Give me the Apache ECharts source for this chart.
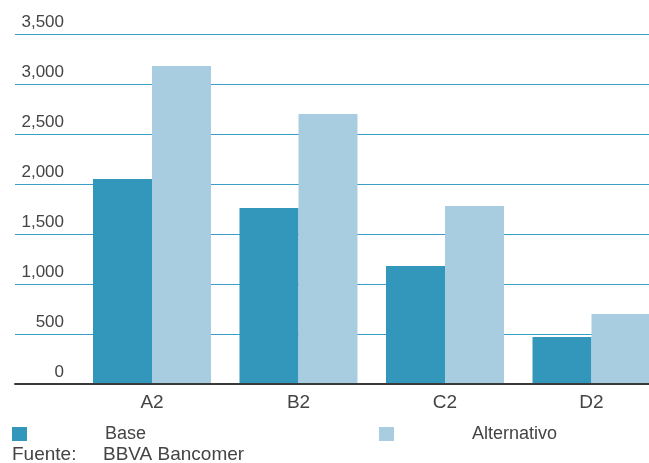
<!DOCTYPE html>
<html>
<head>
<meta charset="utf-8">
<script src="https://cdn.jsdelivr.net/npm/echarts@6/dist/echarts.min.js"></script>
<style>html,body{margin:0;padding:0;background:#fff}#c{width:649px;height:463px}</style>
</head>
<body>
<div id="c"></div>
<script>
const categories = ['A2', 'B2', 'C2', 'D2'];
const baseValues = [2050, 1760, 1180, 470];
const altValues = [3180, 2700, 1780, 700];
const seriesNames = ['Base', 'Alternativo'];
const yMin = 0, yMax = 3500, yStep = 500;
const sourceLabel = 'Fuente:';
const sourceText = 'BBVA Bancomer';

const FONT = 'Liberation Sans, Arial, sans-serif';
const TXT = '#444';
const C_BASE = '#3396bb';
const C_ALT = '#a9cde0';
const GRIDC = '#3a9dc6';

const chart = echarts.init(document.getElementById('c'), null, {renderer: 'canvas'});
chart.setOption({
  animation: false,
  backgroundColor: '#fff',
  grid: [
    {left: 15, width: 634, top: 34, height: 350},
    {left: 152, width: 439.5, top: 34, height: 350}
  ],
  title: [
    {text: sourceLabel, left: 7, top: 440, padding: 5, textStyle: {fontFamily: FONT, fontSize: 19, fontWeight: 'normal', color: TXT}},
    {text: sourceText, left: 98, top: 440, padding: 5, textStyle: {fontFamily: FONT, fontSize: 19, fontWeight: 'normal', color: TXT}}
  ],
  legend: [
    {data: [seriesNames[0]], left: 7, top: 420, itemWidth: 15, itemHeight: 14, icon: 'rect',
     textStyle: {fontFamily: FONT, fontSize: 18, color: TXT, padding: [0, 0, 0, 73]}},
    {data: [seriesNames[1]], left: 374, top: 420, itemWidth: 15, itemHeight: 14, icon: 'rect',
     textStyle: {fontFamily: FONT, fontSize: 18, color: TXT, padding: [0, 0, 0, 73]}}
  ],
  xAxis: [
    {gridIndex: 0, type: 'value', min: 0, max: 1, z: 10,
     axisLine: {show: true, lineStyle: {color: '#3a3a3a', width: 2}},
     axisTick: {show: false}, axisLabel: {show: false}, splitLine: {show: false}},
    {gridIndex: 1, type: 'category', data: categories, boundaryGap: false,
     axisLine: {show: false}, axisTick: {show: false}, splitLine: {show: false},
     axisLabel: {show: true, margin: 9, fontFamily: FONT, fontSize: 19, color: TXT}}
  ],
  yAxis: [
    {gridIndex: 0, type: 'value', min: yMin, max: yMax, interval: yStep,
     axisLine: {show: false}, axisTick: {show: false},
     axisLabel: {show: true, inside: true, margin: 49, align: 'right', verticalAlign: 'bottom',
       padding: [0, 0, 3, 0], fontFamily: FONT, fontSize: 17, color: TXT,
       formatter: v => v.toLocaleString('en-US')},
     splitLine: {show: true, lineStyle: {color: GRIDC, width: 1}}},
    {gridIndex: 1, type: 'value', min: yMin, max: yMax, interval: yStep, show: false}
  ],
  series: [
    {name: seriesNames[0], type: 'bar', xAxisIndex: 1, yAxisIndex: 1, data: baseValues,
     barWidth: 59, barGap: '0%', clip: false, itemStyle: {color: C_BASE}},
    {name: seriesNames[1], type: 'bar', xAxisIndex: 1, yAxisIndex: 1, data: altValues,
     barWidth: 59, barGap: '0%', clip: false, itemStyle: {color: C_ALT}}
  ]
});
</script>
</body>
</html>
